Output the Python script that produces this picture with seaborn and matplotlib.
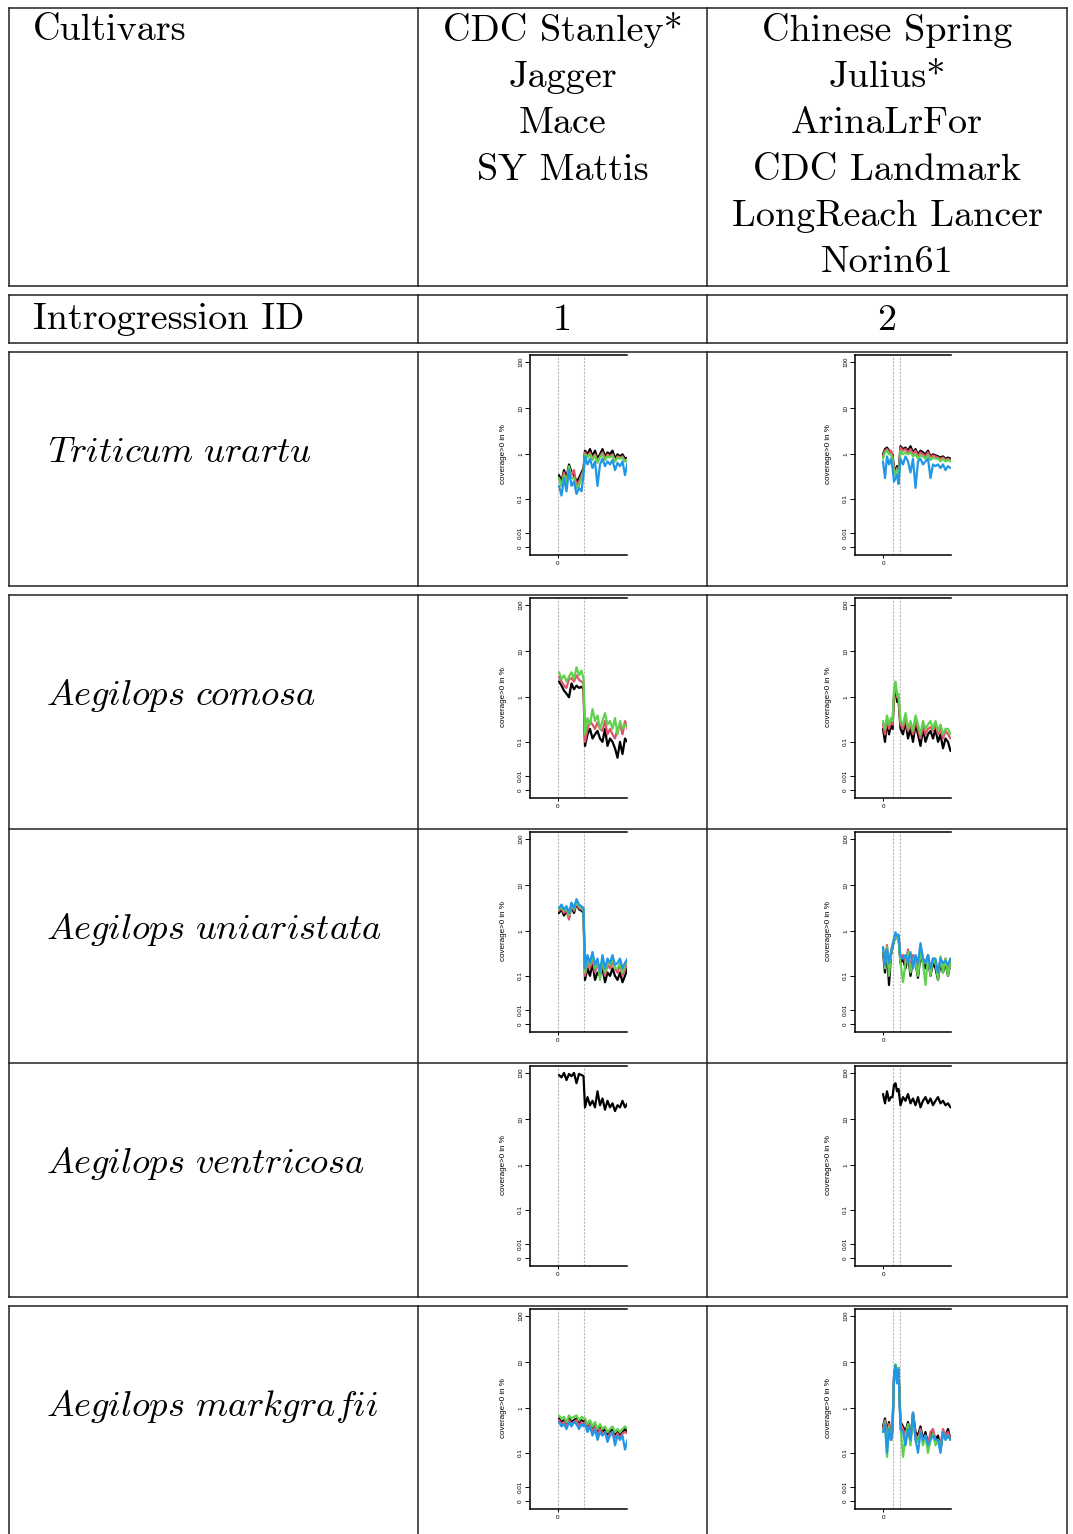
import numpy as np
import pandas as pd
import seaborn as sns
import matplotlib.pyplot as plt

sns.set_style('white')
plt.rcParams['mathtext.fontset'] = 'cm'
plt.rcParams['font.family'] = ['Liberation Sans', 'DejaVu Sans']
plt.rcParams['text.color'] = 'black'
plt.rcParams['axes.labelcolor'] = 'black'
plt.rcParams['xtick.color'] = 'black'
plt.rcParams['ytick.color'] = 'black'

# ---- table text ----
cultivars_id1 = ['CDC Stanley*', 'Jagger', 'Mace', 'SY Mattis']
cultivars_id2 = ['Chinese Spring', 'Julius*', 'ArinaLrFor', 'CDC Landmark',
                 'LongReach Lancer', 'Norin61']
introgression_ids = ['1', '2']
species = ['Triticum urartu', 'Aegilops comosa', 'Aegilops uniaristata',
           'Aegilops ventricosa', 'Aegilops markgrafii']

# ---- window positions (Mb, relative to window start) ----
pos_id1 = [1, 3.5, 6, 8.5, 11, 13.5, 16, 18.5, 21, 23.5, 25.5,
           27, 29.5, 32, 34.5, 37, 39.5, 42, 44.5, 47, 49.5, 52, 54.5,
           57, 59.5, 62, 64.5, 67, 69.5]
pos_id2 = [0, 2, 4, 6, 8, 9.5, 11, 12.5, 14, 15.5,
           17.5, 20, 22.5, 25, 27.5, 30, 32.5, 35, 37.5, 40, 42.5, 45, 47.5,
           50, 52.5, 55, 57.5, 60, 62.5, 65, 67.5]
intro_id1 = [0, 26]
intro_id2 = [10, 17]

line_colors = ['#000000', '#DF536B', '#61D04F', '#2297E6']

# coverage>0 in %, one list per cultivar (black, red, green, blue)
urartu_id1 = [
    [0.35, 0.25, 0.45, 0.3, 0.6, 0.4, 0.35, 0.25, 0.3, 0.4, 0.5,
     1.2, 1.0, 1.3, 0.9, 1.2, 0.8, 1.0, 1.3, 0.9, 1.1, 1.0, 1.2, 0.8, 1.0, 0.9, 1.0, 0.8, 0.85],
    [0.3, 0.2, 0.4, 0.25, 0.5, 0.35, 0.45, 0.2, 0.25, 0.35, 0.45,
     1.1, 0.9, 1.1, 0.8, 1.0, 0.7, 0.9, 1.1, 0.8, 1.0, 0.9, 1.0, 0.7, 0.9, 0.85, 0.9, 0.7, 0.8],
    [0.3, 0.2, 0.35, 0.22, 0.55, 0.3, 0.3, 0.18, 0.2, 0.3, 0.4,
     1.0, 0.85, 1.0, 0.75, 0.95, 0.65, 0.85, 1.0, 0.75, 0.9, 0.85, 0.95, 0.7, 0.85, 0.8, 0.85, 0.7, 0.75],
    [0.2, 0.12, 0.3, 0.15, 0.45, 0.2, 0.25, 0.13, 0.18, 0.15, 0.35,
     0.9, 0.6, 0.8, 0.5, 0.7, 0.2, 0.6, 0.8, 0.55, 0.7, 0.6, 0.75, 0.45, 0.65, 0.55, 0.7, 0.35, 0.65],
]
urartu_id2 = [
    [1.0, 1.3, 1.4, 1.2, 1.1, 1.0, 0.5, 0.45, 0.55, 0.4,
     1.5, 1.3, 1.4, 1.2, 1.5, 1.1, 1.3, 1.0, 1.2, 1.1, 1.0, 1.2, 0.9, 1.0, 0.95, 0.9, 0.85, 0.9, 0.8, 0.85, 0.8],
    [0.9, 1.2, 1.3, 1.1, 1.2, 0.9, 0.45, 0.4, 0.5, 0.35,
     1.4, 1.2, 1.3, 1.1, 1.3, 1.0, 1.2, 0.9, 1.1, 1.0, 0.9, 1.1, 0.85, 0.95, 0.9, 0.85, 0.8, 0.85, 0.75, 0.8, 0.75],
    [0.8, 1.1, 1.2, 1.0, 1.0, 0.8, 0.4, 0.35, 0.45, 0.3,
     1.2, 1.0, 1.1, 1.0, 1.1, 0.9, 1.0, 0.8, 0.95, 0.9, 0.8, 0.95, 0.75, 0.85, 0.8, 0.8, 0.7, 0.8, 0.7, 0.75, 0.7],
    [0.7, 0.3, 0.9, 0.6, 0.8, 0.5, 0.25, 0.3, 0.35, 0.22,
     0.8, 0.6, 0.9, 0.7, 0.4, 0.8, 0.18, 0.7, 0.8, 0.6, 0.7, 0.8, 0.3, 0.6, 0.55, 0.6, 0.5, 0.6, 0.45, 0.55, 0.5],
]
comosa_id1 = [
    [2.2, 1.8, 1.4, 1.2, 1.0, 2.0, 1.5, 1.8, 1.6, 1.7, 1.5,
     0.08, 0.15, 0.2, 0.12, 0.15, 0.18, 0.12, 0.1, 0.2, 0.08, 0.12, 0.1, 0.07, 0.04, 0.1, 0.05, 0.12, 0.1],
    [2.8, 2.2, 1.8, 1.6, 2.5, 2.6, 2.2, 3.0, 2.4, 2.2, 2.0,
     0.1, 0.2, 0.3, 0.25, 0.2, 0.28, 0.2, 0.18, 0.3, 0.15, 0.2, 0.15, 0.12, 0.2, 0.25, 0.15, 0.3, 0.2],
    [3.5, 2.5, 3.0, 2.2, 2.8, 3.5, 2.5, 4.5, 3.0, 3.8, 2.5,
     0.15, 0.35, 0.25, 0.55, 0.3, 0.4, 0.2, 0.3, 0.45, 0.25, 0.3, 0.2, 0.35, 0.15, 0.3, 0.2, 0.25, 0.22],
]
comosa_id2 = [
    [0.2, 0.1, 0.3, 0.15, 0.25, 0.2, 1.0, 1.8, 0.8, 0.9,
     0.2, 0.15, 0.3, 0.12, 0.2, 0.1, 0.25, 0.15, 0.08, 0.2, 0.1, 0.15, 0.18, 0.12, 0.2, 0.1, 0.15, 0.07, 0.12, 0.1, 0.06],
    [0.25, 0.15, 0.35, 0.2, 0.3, 0.25, 1.2, 2.0, 1.0, 1.0,
     0.25, 0.2, 0.35, 0.18, 0.25, 0.15, 0.3, 0.2, 0.12, 0.25, 0.15, 0.2, 0.22, 0.18, 0.25, 0.15, 0.2, 0.12, 0.18, 0.15, 0.12],
    [0.3, 0.2, 0.4, 0.25, 0.35, 0.3, 1.4, 2.2, 1.1, 1.2,
     0.3, 0.25, 0.45, 0.2, 0.3, 0.18, 0.4, 0.25, 0.15, 0.3, 0.2, 0.25, 0.3, 0.2, 0.3, 0.18, 0.25, 0.15, 0.2, 0.2, 0.15],
]
uniaristata_id1 = [
    [2.5, 3.0, 2.2, 2.8, 2.0, 3.5, 2.5, 4.0, 3.0, 2.8, 2.5,
     0.08, 0.15, 0.1, 0.2, 0.08, 0.12, 0.1, 0.15, 0.07, 0.12, 0.1, 0.15, 0.1, 0.08, 0.12, 0.07, 0.1, 0.15],
    [2.8, 3.2, 2.5, 3.0, 1.8, 3.8, 2.8, 4.2, 3.2, 3.0, 2.8,
     0.1, 0.2, 0.15, 0.25, 0.12, 0.2, 0.15, 0.2, 0.1, 0.18, 0.15, 0.2, 0.15, 0.12, 0.18, 0.1, 0.15, 0.2],
    [3.0, 3.5, 2.8, 3.2, 2.2, 4.0, 3.0, 4.5, 3.5, 3.2, 3.0,
     0.12, 0.25, 0.18, 0.3, 0.15, 0.22, 0.08, 0.25, 0.12, 0.2, 0.18, 0.25, 0.15, 0.15, 0.2, 0.12, 0.18, 0.22],
    [3.2, 3.8, 3.0, 3.5, 2.5, 4.2, 3.2, 5.0, 3.8, 3.5, 3.2,
     0.15, 0.3, 0.2, 0.35, 0.18, 0.25, 0.12, 0.3, 0.15, 0.25, 0.2, 0.3, 0.18, 0.2, 0.25, 0.15, 0.2, 0.25],
]
uniaristata_id2 = [
    [0.35, 0.12, 0.4, 0.06, 0.3, 0.45, 0.6, 0.8, 0.7, 0.75,
     0.2, 0.25, 0.15, 0.3, 0.1, 0.25, 0.2, 0.09, 0.3, 0.2, 0.15, 0.25, 0.1, 0.2, 0.15, 0.08, 0.2, 0.12, 0.2, 0.1, 0.2],
    [0.45, 0.2, 0.5, 0.15, 0.35, 0.5, 0.65, 0.85, 0.75, 0.8,
     0.25, 0.3, 0.2, 0.4, 0.15, 0.3, 0.25, 0.12, 0.45, 0.25, 0.2, 0.3, 0.12, 0.25, 0.2, 0.1, 0.25, 0.15, 0.25, 0.12, 0.25],
    [0.4, 0.15, 0.45, 0.1, 0.3, 0.5, 0.6, 0.75, 0.7, 0.7,
     0.2, 0.07, 0.2, 0.35, 0.12, 0.25, 0.2, 0.1, 0.35, 0.2, 0.06, 0.3, 0.1, 0.25, 0.2, 0.08, 0.28, 0.12, 0.25, 0.1, 0.2],
    [0.45, 0.18, 0.4, 0.2, 0.35, 0.5, 0.7, 0.95, 0.8, 0.85,
     0.28, 0.25, 0.3, 0.2, 0.35, 0.15, 0.3, 0.2, 0.55, 0.25, 0.2, 0.3, 0.15, 0.25, 0.25, 0.12, 0.25, 0.2, 0.22, 0.18, 0.25],
]
ventricosa_id1 = [
    [90, 80, 100, 70, 95, 85, 100, 60, 95, 90, 85,
     18, 30, 20, 25, 18, 40, 20, 28, 16, 25, 18, 22, 15, 20, 18, 25, 18, 22],
]
ventricosa_id2 = [
    [35, 22, 40, 25, 30, 30, 55, 60, 40, 45,
     20, 30, 25, 35, 22, 28, 20, 30, 18, 25, 30, 22, 28, 20, 25, 30, 22, 25, 20, 22, 18],
]
markgrafii_id1 = [
    [0.6, 0.5, 0.55, 0.45, 0.6, 0.5, 0.55, 0.6, 0.45, 0.55, 0.5,
     0.55, 0.4, 0.5, 0.35, 0.45, 0.3, 0.4, 0.3, 0.35, 0.25, 0.3, 0.35, 0.25, 0.3, 0.25, 0.3, 0.35, 0.3],
    [0.55, 0.45, 0.5, 0.4, 0.55, 0.45, 0.5, 0.55, 0.4, 0.5, 0.45,
     0.5, 0.35, 0.45, 0.3, 0.4, 0.25, 0.35, 0.28, 0.3, 0.22, 0.28, 0.3, 0.22, 0.28, 0.22, 0.28, 0.3, 0.28],
    [0.7, 0.6, 0.65, 0.5, 0.7, 0.6, 0.65, 0.7, 0.55, 0.65, 0.6,
     0.6, 0.45, 0.55, 0.4, 0.5, 0.35, 0.45, 0.35, 0.4, 0.3, 0.35, 0.4, 0.3, 0.35, 0.3, 0.35, 0.4, 0.35],
    [0.5, 0.4, 0.45, 0.35, 0.5, 0.4, 0.5, 0.45, 0.35, 0.45, 0.4,
     0.45, 0.3, 0.4, 0.25, 0.35, 0.2, 0.3, 0.25, 0.3, 0.18, 0.25, 0.3, 0.15, 0.25, 0.2, 0.25, 0.12, 0.2],
]
markgrafii_id2 = [
    [0.4, 0.6, 0.3, 0.5, 0.2, 0.4, 5.0, 8.5, 4.0, 7.5,
     0.5, 0.4, 0.3, 0.5, 0.2, 0.8, 0.3, 0.25, 0.4, 0.2, 0.3, 0.15, 0.25, 0.3, 0.2, 0.25, 0.12, 0.3, 0.25, 0.35, 0.2],
    [0.35, 0.55, 0.25, 0.45, 0.2, 0.35, 4.5, 8.0, 3.8, 7.0,
     0.45, 0.35, 0.25, 0.4, 0.18, 0.7, 0.25, 0.2, 0.35, 0.18, 0.25, 0.15, 0.3, 0.35, 0.2, 0.2, 0.15, 0.35, 0.25, 0.3, 0.2],
    [0.3, 0.5, 0.08, 0.4, 0.2, 0.3, 4.0, 9.0, 3.5, 7.5,
     0.4, 0.08, 0.25, 0.45, 0.15, 0.75, 0.2, 0.18, 0.3, 0.15, 0.25, 0.1, 0.2, 0.28, 0.15, 0.2, 0.12, 0.3, 0.2, 0.25, 0.2],
    [0.3, 0.45, 0.1, 0.35, 0.2, 0.3, 4.5, 8.5, 3.5, 7.0,
     0.35, 0.3, 0.15, 0.35, 0.2, 0.8, 0.2, 0.1, 0.3, 0.2, 0.25, 0.15, 0.2, 0.25, 0.2, 0.2, 0.1, 0.3, 0.2, 0.25, 0.2],
]

ytick_vals = [0, 0.01, 0.1, 1, 10, 100]
ytick_labels = ['0', '0.01', '0.1', '1', '10', '100']

coverage_rows = [
    (urartu_id1, urartu_id2),
    (comosa_id1, comosa_id2),
    (uniaristata_id1, uniaristata_id2),
    (ventricosa_id1, ventricosa_id2),
    (markgrafii_id1, markgrafii_id2),
]

W, H = 1073, 1534


def fwd(v):
    return np.log10(np.maximum(np.asarray(v, dtype=float) + 0.01, 1e-9))


def inv(t):
    return 10 ** np.asarray(t, dtype=float) - 0.01


def px_rect(left, top, width, height):
    return [left / W, 1 - (top + height) / H, width / W, height / H]


def coverage_plot(ax, pos, series, intro, xlim):
    frames = [pd.DataFrame({'pos': pos, 'cov': vals, 'line': i})
              for i, vals in enumerate(series)]
    df = pd.concat(frames, ignore_index=True)
    n = len(series)
    sns.lineplot(data=df, x='pos', y='cov', hue='line', hue_order=list(range(n)),
                 palette=line_colors[:n], legend=False, errorbar=None,
                 sort=False, lw=1.6, ax=ax)
    for xi in intro:
        ax.axvline(xi, color='#b8b8b8', lw=0.8, ls=(0, (2, 1.2)), zorder=0)
    ax.set_yscale('function', functions=(fwd, inv))
    ax.set_ylim(inv(-2.16), inv(2.16))
    ax.set_xlim(*xlim)
    ax.set_yticks(ytick_vals)
    ax.set_yticklabels(ytick_labels, rotation=90, va='center')
    ax.set_xticks([0])
    ax.set_xticklabels(['0'])
    ax.minorticks_off()
    ax.tick_params(axis='y', length=3.5, width=0.7, pad=1.5, labelsize=4.5, left=True)
    ax.tick_params(axis='x', length=2.5, width=0.7, pad=2.5, labelsize=4.5, bottom=True)
    ax.set_xlabel('')
    ax.set_ylabel('coverage>0 in %', fontsize=5.8)
    ax.yaxis.set_label_coords(-0.24, 0.5)
    ax.spines['right'].set_visible(False)
    for s in ['left', 'top', 'bottom']:
        ax.spines[s].set_linewidth(1.1)
        ax.spines[s].set_color('black')
    ax.set_facecolor('none')


fig = plt.figure(figsize=(W / 100, H / 100), dpi=100)
bg = fig.add_axes([0, 0, 1, 1])
bg.set_xlim(0, W)
bg.set_ylim(H, 0)
bg.axis('off')

# table grid
col_x = [9, 418, 707, 1067]
tables = [(8, 286, []), (295, 343, []), (352, 586, []),
          (595, 1297, [829, 1063]), (1306, 1545, [])]
grid_kw = dict(color='#222222', lw=1.1, solid_capstyle='projecting')
for top, bottom, inner in tables:
    for y in [top, bottom] + inner:
        bg.plot([col_x[0], col_x[-1]], [y, y], **grid_kw)
    for x in col_x:
        bg.plot([x, x], [top, bottom], **grid_kw)

rm = dict(fontfamily='cmr10', fontsize=27.5, va='baseline', color='black')
bg.text(33, 40.5, 'Cultivars', ha='left', **rm)
for k, name in enumerate(cultivars_id1):
    bg.text(562.5, 40.5 + 46.4 * k, name, ha='center', **rm)
for k, name in enumerate(cultivars_id2):
    bg.text(887, 40.5 + 46.4 * k, name, ha='center', **rm)
bg.text(33, 329.5, 'Introgression ID', ha='left', **rm)
bg.text(562.5, 329.5, introgression_ids[0], ha='center', **rm)
bg.text(887, 329.5, introgression_ids[1], ha='center', **rm)

cell_tops = [352, 595, 829, 1063, 1306]
for r, name in enumerate(species):
    label = r'$\mathit{' + name.replace(' ', r'\ ') + '}$'
    bg.text(46 if r else 48, cell_tops[r] + 110, label, ha='left', va='baseline',
            fontsize=26.3, color='black')
    id1_series, id2_series = coverage_rows[r]
    ax1 = fig.add_axes(px_rect(530, cell_tops[r] + 2.5, 97, 200))
    coverage_plot(ax1, pos_id1, id1_series, intro_id1, (-28, 69))
    ax2 = fig.add_axes(px_rect(855, cell_tops[r] + 2.5, 96, 200))
    coverage_plot(ax2, pos_id2, id2_series, intro_id2, (-28, 68))

fig.savefig('out.png', dpi=100)
